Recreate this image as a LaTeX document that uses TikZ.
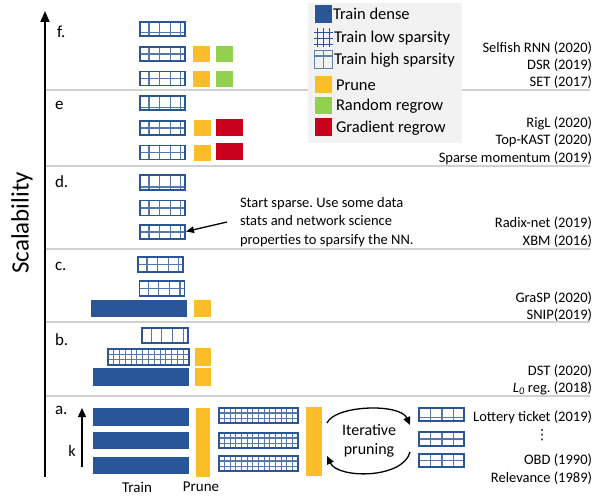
\documentclass[tikz,border=0pt]{standalone}
\usepackage{fontspec}
\setmainfont{Carlito}
\newfontfamily\symfont{DejaVu Sans}
\usetikzlibrary{arrows.meta,calc}
\frenchspacing

\definecolor{netblue}{HTML}{2A5596}
\definecolor{pruneorange}{HTML}{FBBD2A}
\definecolor{regrowgreen}{HTML}{92D050}
\definecolor{regrowred}{HTML}{C8001E}
\definecolor{legendgray}{HTML}{F2F2F2}
\definecolor{rulegray}{HTML}{D0D0D0}

% grid lines inside a sparse layer block
\newcommand\ppcols[1]{\foreach \f in {#1}
  \draw[gl] ($(path picture bounding box.north west)!\f!(path picture bounding box.north east)$)
         -- ($(path picture bounding box.south west)!\f!(path picture bounding box.south east)$);}
\newcommand\pprows[1]{\foreach \f in {#1}
  \draw[gl] ($(path picture bounding box.north west)!\f!(path picture bounding box.south west)$)
         -- ($(path picture bounding box.north east)!\f!(path picture bounding box.south east)$);}

\begin{document}
\begin{tikzpicture}[x=1pt,y=-1pt,
  every node/.style={inner sep=0pt, outer sep=0pt},
  gl/.style={netblue!80, line width=1.1pt},
  blkbase/.style={draw=netblue, line width=1.7pt, fill=white},
  hisparse/.style={blkbase, path picture={\ppcols{0.2,0.43,0.67,0.9}\pprows{#1}}},
  hisparse/.default=0.5,
  colsparse/.style={blkbase, path picture={\ppcols{0.2,0.43,0.67,0.9}}},
  quadsparse/.style={blkbase, path picture={\ppcols{0.26,0.51,0.76}\pprows{#1}}},
  quadsparse/.default=0.5,
  finesparse/.style={blkbase, line width=1.5pt, path picture={%
    \ppcols{0.0714,0.1429,0.2143,0.2857,0.3571,0.4286,0.5,0.5714,0.6429,0.7143,0.7857,0.8571,0.9286}%
    \pprows{0.33,0.67}}},
  dense/.style={fill=netblue},
  prune/.style={fill=pruneorange},
  rndgrow/.style={fill=regrowgreen},
  gradgrow/.style={fill=regrowred},
  sq/.style={minimum width=17, minimum height=16},
  ref/.style={font=\fontsize{14.5}{17}\selectfont, anchor=east},
  sec/.style={font=\fontsize{17}{19}\selectfont, anchor=west},
  lgtext/.style={font=\fontsize{16.5}{18}\selectfont, anchor=west},
  rule/.style={rulegray, line width=1.2pt},
  cyc/.style={line width=1.3pt, -{Triangle[length=8pt,width=7pt]}}
]
\useasboundingbox (0,0) rectangle (593,495);

% section separators
\foreach \yy in {90,166,249,322,396}
  \draw[rule] (45,\yy) -- (590,\yy);

% scalability axis
\coordinate (axbot) at (45,477);
\coordinate (axtop) at (45,11);
\draw[line width=1.8pt, -{Triangle[length=11pt,width=9pt]}] (axbot) -- (axtop);
\node[rotate=90, font=\fontsize{25}{28}\selectfont] (scal) at (22,223) {Scalability};

% legend
\node[fill=legendgray, minimum width=154, minimum height=140, anchor=north west] (legend) at (308,3) {};
\node[dense, minimum width=17, minimum height=18] (lgdense) at (323.5,14) {};
\node[minimum width=19, minimum height=19] (lglow) at (323.5,38) {};
\foreach \v in {317.5,323.5,329.5}
  \draw[netblue, line width=1.3pt] (\v,28.5) -- (\v,47.5);
\foreach \h in {32.5,38.5,44.5}
  \draw[netblue, line width=1.3pt] (314,\h) -- (333,\h);
\node[draw=netblue!75, line width=1.2pt, minimum width=18, minimum height=18] (lghigh) at (323.5,59.5) {};
\draw[netblue!75, line width=1.2pt] (lghigh.north) -- (lghigh.south);
\draw[netblue!75, line width=1.2pt] ([yshift=-5.5pt]lghigh.north west) -- ([yshift=-5.5pt]lghigh.north east);
\node[prune, minimum width=17, minimum height=17] (lgprune) at (323.5,84.5) {};
\node[rndgrow, minimum width=17, minimum height=17] (lgrnd) at (323.5,105.5) {};
\node[gradgrow, minimum width=17, minimum height=18] (lggrad) at (323.5,127) {};
\node[lgtext] (tdense) at (333,14) {Train dense};
\node[lgtext] (tlow) at (334,38) {Train low sparsity};
\node[lgtext] (thigh) at (334,60) {Train high sparsity};
\node[lgtext] (tprune) at (336,85) {Prune};
\node[lgtext] (trnd) at (336,106) {Random regrow};
\node[lgtext] (tgrad) at (336,128) {Gradient regrow};

% f. sparse training with random regrowth
\node[sec] (lf) at (57,32) {f.};
\node[hisparse=0.76, minimum width=45, minimum height=14] (f1) at (162.5,29) {};
\node[hisparse, minimum width=45, minimum height=14] (f2) at (162.5,54) {};
\node[hisparse, minimum width=45, minimum height=14] (f3) at (162.5,78.5) {};
\node[prune, sq] (fp2) at (201.5,54) {};
\node[prune, sq] (fp3) at (201.5,78.5) {};
\node[rndgrow, sq] (fg2) at (224,54) {};
\node[rndgrow, sq] (fg3) at (224,78.5) {};
\node[ref] (rf1) at (592,48) {Selfish RNN (2020)};
\node[ref] (rf2) at (592,65) {DSR (2019)};
\node[ref] (rf3) at (592,82) {SET (2017)};

% e. sparse training with gradient regrowth
\node[sec] (le) at (55,105) {e};
\node[hisparse=0.8, minimum width=45, minimum height=14] (e1) at (162.5,103) {};
\node[hisparse, minimum width=45, minimum height=14] (e2) at (162.5,128) {};
\node[hisparse, minimum width=45, minimum height=14] (e3) at (162.5,152.5) {};
\node[prune, sq] (ep2) at (202.5,128) {};
\node[prune, sq] (ep3) at (202.5,152.5) {};
\node[gradgrow, minimum width=27, minimum height=17] (eg2) at (229.5,127.5) {};
\node[gradgrow, minimum width=27, minimum height=17] (eg3) at (229.5,151.5) {};
\node[ref] (re1) at (592,123) {RigL (2020)};
\node[ref] (re2) at (592,140) {Top-KAST (2020)};
\node[ref] (re3) at (592,158) {Sparse momentum (2019)};

% d. static sparse training
\node[sec] (ld) at (55,182) {d.};
\node[hisparse=0.8, minimum width=45, minimum height=15] (d1) at (162.5,182.5) {};
\node[hisparse, minimum width=45, minimum height=15] (d2) at (162.5,208) {};
\node[hisparse, minimum width=45, minimum height=14] (d3) at (162.5,232) {};
\node[font=\fontsize{14.5}{18.5}\selectfont, align=left, anchor=west] (note) at (240,222)
  {Start sparse. Use some data\\stats and network science\\properties to sparsify the NN.};
\draw[line width=1.3pt, -{Triangle[length=8pt,width=6.5pt]}] ([xshift=-13pt]note.west) -- ([xshift=1pt,yshift=0.5pt]d3.east);
\node[ref] (rd1) at (592,223) {Radix-net (2019)};
\node[ref] (rd2) at (592,241) {XBM (2016)};

% c. pruning at initialization
\node[sec] (lc) at (55,266) {c.};
\node[hisparse, minimum width=45, minimum height=15] (c1) at (160.5,264.5) {};
\node[hisparse, minimum width=45, minimum height=15] (c2) at (162,288.5) {};
\node[dense, minimum width=96, minimum height=17] (c3) at (139,308.5) {};
\node[prune, minimum width=17, minimum height=17] (cp3) at (202.5,308.5) {};
\node[ref] (rc1) at (592,298) {GraSP (2020)};
\node[ref] (rc2) at (592,315) {SNIP(2019)};

% b. pruning during training
\node[sec] (lb) at (55,340) {b.};
\node[colsparse, minimum width=46, minimum height=15] (b1) at (165,335.5) {};
\node[finesparse, minimum width=81, minimum height=16] (b2) at (148.5,357) {};
\node[dense, minimum width=96, minimum height=18] (b3) at (141,377) {};
\node[prune, minimum width=16, minimum height=18] (bp2) at (203,357) {};
\node[prune, minimum width=16, minimum height=18] (bp3) at (203,377) {};
\node[ref] (rb1) at (592,371) {DST (2020)};
\node[ref] (rb2) at (592,388) {\textit{L\textsubscript{0}} reg. (2018)};

% a. dense-to-sparse with iterative pruning
\node[sec] (la) at (55,410) {a.};
\coordinate (kbot) at (82,467);
\coordinate (ktop) at (82,408);
\draw[line width=1.3pt, -{Triangle[length=9pt,width=8pt]}] (kbot) -- (ktop);
\node[font=\fontsize{16}{18}\selectfont] (k) at (72,451) {k};
\node[dense, minimum width=96, minimum height=18] (a1) at (141,417) {};
\node[dense, minimum width=96, minimum height=17] (a2) at (141,440.5) {};
\node[dense, minimum width=96, minimum height=17] (a3) at (141,465.5) {};
\node[prune, minimum width=14, minimum height=69] (ap1) at (203,442.5) {};
\node[finesparse, minimum width=79, minimum height=15] (as1) at (258.5,415.5) {};
\node[finesparse, minimum width=79, minimum height=15] (as2) at (258.5,440.5) {};
\node[finesparse, minimum width=79, minimum height=15] (as3) at (258.5,463.5) {};
\node[prune, minimum width=16, minimum height=69] (ap2) at (314,441.5) {};
\node[font=\fontsize{16}{19}\selectfont, align=center] (iter) at (369,441) {Iterative\\pruning};
\coordinate (cyc1) at (327,423);
\coordinate (cyc2) at (410,425);
\coordinate (cyc3) at (410,452);
\coordinate (cyc4) at (327,456);
\draw[cyc] (cyc1) .. controls (335,405) and (400,403) .. (cyc2);
\draw[cyc] (cyc3) .. controls (403,479) and (338,479) .. (cyc4);
\node[quadsparse=0.75, minimum width=45, minimum height=13] (r1) at (441.5,414.5) {};
\node[quadsparse, minimum width=45, minimum height=14] (r2) at (441.5,439) {};
\node[quadsparse, minimum width=45, minimum height=13] (r3) at (441.5,460.5) {};
\node[ref] (ra1) at (592,417) {Lottery ticket (2019)};
\node[font=\symfont\fontsize{14}{16}\selectfont] (dots) at (542,435) {⋮};
\node[ref] (ra2) at (592,460) {OBD (1990)};
\node[ref] (ra3) at (592,478) {Relevance (1989)};

% column captions
\node[font=\fontsize{15}{17}\selectfont] (ctrain) at (137,487) {Train};
\node[font=\fontsize{15}{17}\selectfont] (cprune) at (201,487) {Prune};
\end{tikzpicture}
\end{document}
